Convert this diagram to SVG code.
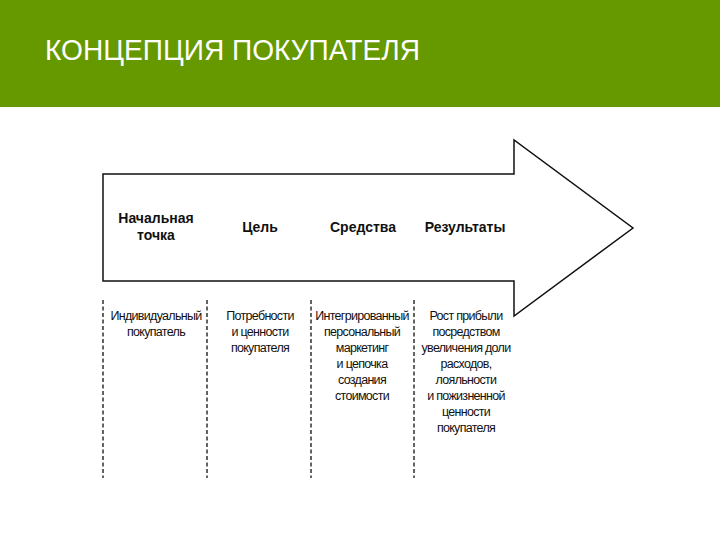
<svg xmlns="http://www.w3.org/2000/svg" width="720" height="540" viewBox="0 0 720 540">
<style>
.title{font-family:"Liberation Sans",Arial,sans-serif;font-size:29px;fill:#ffffff}
.hd{font-family:"Liberation Sans",Arial,sans-serif;font-size:14px;font-weight:bold;fill:#111;text-anchor:middle}
.tx{font-family:"Liberation Sans",Arial,sans-serif;font-size:12.5px;letter-spacing:-0.7px;fill:#111;text-anchor:middle}
.dash{stroke:#222;stroke-width:1.4;stroke-dasharray:4 2.5;fill:none}
</style>
<rect x="0" y="0" width="720" height="540" fill="#ffffff"/>
<rect id="banner" x="0" y="0" width="720" height="107" fill="#669900"/>
<text class="title" x="45" y="60" textLength="375" lengthAdjust="spacingAndGlyphs">КОНЦЕПЦИЯ ПОКУПАТЕЛЯ</text>
<g id="arrow">
<path d="M103,174 L514,174 L514,140 L633,228 L514,316 L514,281 L103,281 Z" fill="#ffffff" stroke="#111" stroke-width="1.5" stroke-linejoin="miter"/>
<text class="hd" x="156" y="223">Начальная</text>
<text class="hd" x="156" y="240">точка</text>
<text class="hd" x="260" y="232">Цель</text>
<text class="hd" x="363" y="232">Средства</text>
<text class="hd" x="465" y="232">Результаты</text>
</g>
<g id="connectors">
<line class="dash" x1="103" y1="300" x2="103" y2="478"/>
<line class="dash" x1="207" y1="300" x2="207" y2="478"/>
<line class="dash" x1="311" y1="300" x2="311" y2="478"/>
<line class="dash" x1="414" y1="300" x2="414" y2="478"/>
</g>
<g id="col1">
<text class="tx" x="156" y="320">Индивидуальный</text>
<text class="tx" x="156" y="336">покупатель</text>
</g>
<g id="col2">
<text class="tx" x="260" y="320">Потребности</text>
<text class="tx" x="260" y="336">и ценности</text>
<text class="tx" x="260" y="352">покупателя</text>
</g>
<g id="col3">
<text class="tx" x="362" y="320">Интегрированный</text>
<text class="tx" x="362" y="336">персональный</text>
<text class="tx" x="362" y="352">маркетинг</text>
<text class="tx" x="362" y="368">и цепочка</text>
<text class="tx" x="362" y="384">создания</text>
<text class="tx" x="362" y="400">стоимости</text>
</g>
<g id="col4">
<text class="tx" x="466" y="320">Рост прибыли</text>
<text class="tx" x="466" y="336">посредством</text>
<text class="tx" x="466" y="352">увеличения доли</text>
<text class="tx" x="466" y="368">расходов,</text>
<text class="tx" x="466" y="384">лояльности</text>
<text class="tx" x="466" y="400">и пожизненной</text>
<text class="tx" x="466" y="416">ценности</text>
<text class="tx" x="466" y="432">покупателя</text>
</g>
</svg>
